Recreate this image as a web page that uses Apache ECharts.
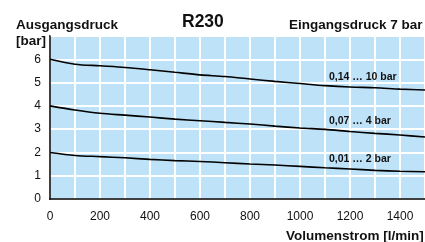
<!DOCTYPE html>
<html>
<head>
<meta charset="utf-8">
<script src="https://cdn.jsdelivr.net/npm/echarts@6/dist/echarts.min.js"></script>
<style>
  html, body { margin: 0; padding: 0; background: #fff; }
  #chart { width: 425px; height: 242px; }
</style>
</head>
<body>
<div id="chart"></div>
<script>
// Volumenstrom [l/min]
const flow = [0, 100, 200, 300, 400, 500, 600, 700, 800, 900, 1000, 1100, 1200, 1300, 1400, 1500];
// Ausgangsdruck [bar] je Regelbereich
const range10 = [6.0, 5.79, 5.72, 5.65, 5.55, 5.44, 5.33, 5.26, 5.15, 5.05, 4.96, 4.87, 4.81, 4.78, 4.72, 4.68];
const range4 = [4.0, 3.82, 3.68, 3.6, 3.52, 3.43, 3.36, 3.29, 3.22, 3.13, 3.05, 2.99, 2.9, 2.82, 2.75, 2.66];
const range2 = [2.0, 1.87, 1.82, 1.77, 1.7, 1.65, 1.61, 1.56, 1.5, 1.46, 1.4, 1.34, 1.29, 1.23, 1.19, 1.17];
const rangeNames = ['0,14 … 10 bar', '0,07 … 4 bar', '0,01 … 2 bar'];

const font = '"Liberation Sans", Arial, sans-serif';
const zip = ys => flow.map((x, i) => [x, ys[i]]);

const line = (name, ys) => ({
  name,
  type: 'line',
  data: zip(ys),
  smooth: 0.3,
  showSymbol: false,
  silent: true,
  lineStyle: { color: '#000', width: 1.6 },
});

const txt = (text, left, top, size) => ({
  text,
  left,
  top,
  padding: 0,
  textStyle: { fontFamily: font, fontSize: size, fontWeight: 'bold', color: '#111' },
});

const myChart = echarts.init(document.getElementById('chart'));
myChart.setOption({
  animation: false,
  title: [
    txt('R230', 182, 13, 17.5),
    txt('Ausgangsdruck', 16, 18, 13.5),
    txt('[bar]', 16, 34, 13.5),
    txt('Eingangsdruck 7 bar', 289, 18, 13.5),
    txt('Volumenstrom [l/min]', 286, 229, 13.5),
    txt(rangeNames[0], 329, 72, 10.5),
    txt(rangeNames[1], 329, 116, 10.5),
    txt(rangeNames[2], 329, 154, 10.5),
  ],
  grid: {
    left: 50,
    top: 36,
    width: 377,
    height: 163,
    show: true,
    backgroundColor: '#bee3f8',
    borderColor: '#000',
    borderWidth: 1.5,
  },
  xAxis: {
    type: 'value',
    min: 0,
    max: 1500,
    interval: 200,
    axisLine: { show: true, onZero: false, lineStyle: { color: '#000', width: 1.5 } },
    axisTick: { show: false },
    axisLabel: {
      margin: 12,
      fontFamily: font,
      fontSize: 12,
      color: '#111',
      showMaxLabel: false,
      formatter: v => String(v),
    },
    splitLine: { show: true, lineStyle: { color: '#fff', width: 2 } },
    minorTick: { show: false, splitNumber: 2 },
    minorSplitLine: { show: true, lineStyle: { color: '#fff', width: 2 } },
  },
  yAxis: {
    type: 'value',
    min: 0,
    max: 7,
    interval: 1,
    axisLine: { show: true, lineStyle: { color: '#000', width: 1.5 } },
    axisTick: { show: false },
    axisLabel: {
      margin: 9,
      fontFamily: font,
      fontSize: 12,
      color: '#111',
      showMaxLabel: false,
    },
    splitLine: { show: true, lineStyle: { color: '#fff', width: 2 } },
  },
  series: [
    line(rangeNames[0], range10),
    line(rangeNames[1], range4),
    line(rangeNames[2], range2),
  ],
});
</script>
</body>
</html>
